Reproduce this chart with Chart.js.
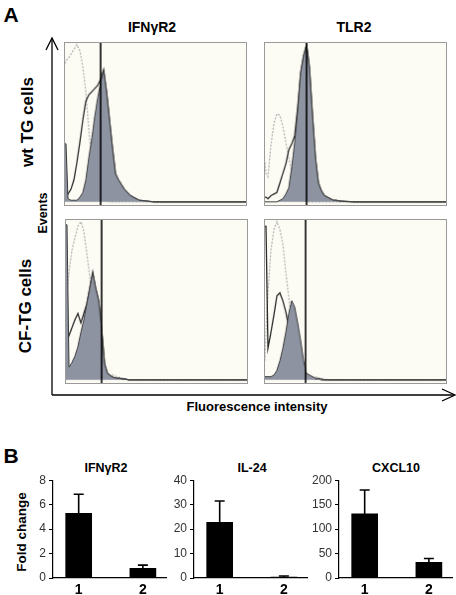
<!DOCTYPE html>
<html>
<head>
<meta charset="utf-8">
<script src="https://cdn.jsdelivr.net/npm/chart.js@4/dist/chart.umd.min.js"></script>
<style>
  body { margin: 0; background: #fff; font-family: "Liberation Sans", Arial, sans-serif; }
  #page { position: relative; width: 456px; height: 595px; overflow: hidden; }
  .txt { position: absolute; white-space: nowrap; font-weight: bold; color: #000; transform: translate(-50%, -50%); line-height: 1; }
  .rot { transform: translate(-50%, -50%) rotate(-90deg); }
  .panel { position: absolute; border: 1px solid #9a9a9a; background: #fcfbf4; }
  .bars { position: absolute; }
</style>
</head>
<body>
<div id="page">
  <svg width="456" height="595" style="position:absolute;left:0;top:0">
    <g stroke="#000" stroke-width="1.3" fill="none">
      <line x1="52" y1="39" x2="52" y2="395"/>
      <line x1="52" y1="395" x2="454" y2="395"/>
      <polyline points="46,50 52,38 58,50"/>
      <polyline points="442,389 455,395 442,401"/>
    </g>
  </svg>

  <div class="txt" style="left:11px;top:14px;font-size:21px">A</div>
  <div class="txt" style="left:152px;top:27px;font-size:14px">IFNγR2</div>
  <div class="txt" style="left:354px;top:27px;font-size:14px">TLR2</div>
  <div class="txt rot" style="left:27px;top:122px;font-size:17px">wt TG cells</div>
  <div class="txt rot" style="left:25px;top:306px;font-size:17px">CF-TG cells</div>
  <div class="txt rot" style="left:43px;top:213px;font-size:12.5px">Events</div>
  <div class="txt" style="left:257px;top:406px;font-size:13px">Fluorescence intensity</div>

  <canvas id="histTL" class="panel" width="183" height="164" style="left:64px;top:42px"></canvas>
  <canvas id="histTR" class="panel" width="183" height="164" style="left:264px;top:42px"></canvas>
  <canvas id="histBL" class="panel" width="183" height="165" style="left:65px;top:219px"></canvas>
  <canvas id="histBR" class="panel" width="183" height="165" style="left:264px;top:219px"></canvas>

  <div class="txt" style="left:11px;top:455px;font-size:21px">B</div>
  <div class="txt" style="left:106px;top:468px;font-size:12.5px">IFNγR2</div>
  <div class="txt" style="left:252px;top:468px;font-size:12.5px">IL-24</div>
  <div class="txt" style="left:396px;top:468px;font-size:12.5px">CXCL10</div>
  <div class="txt rot" style="left:22px;top:532px;font-size:13.5px">Fold change</div>

  <canvas id="barIfng" class="bars" width="156" height="125" style="left:13px;top:470px"></canvas>
  <canvas id="barIl24" class="bars" width="156" height="125" style="left:154px;top:470px"></canvas>
  <canvas id="barCxcl" class="bars" width="156" height="125" style="left:299px;top:470px"></canvas>
</div>

<script>
// fluorescence channels (panel x units) and event counts (% of panel height)
const channels = [0, 1, 3, 6, 9, 12, 15, 18, 21, 24, 27, 30, 33, 36, 39, 42, 45, 48, 51, 54, 57, 60, 63, 66, 69, 72, 75, 90, 183];

// wt TG cells, IFNgR2
const tlIso  = [88, 90, 91, 94, 97, 100, 96, 86, 70, 46, 28, 14, 6, 3, 1, 0.5, 0, 0, 0, 0, 0, 0, 0, 0, 0, 0, 0, 0, 0];
const tlOpen = [10, 8, 5, 8, 14, 25, 38, 52, 64, 68, 70, 72, 74, 78, 84, 70, 52, 34, 18, 14, 11, 8, 6, 4, 3, 2, 1, 0, 0];
const tlFill = [37, 37, 2, 1, 1, 1, 3, 6, 14, 28, 40, 54, 66, 76, 84, 70, 52, 34, 18, 14, 11, 8, 6, 4, 3, 2, 1, 0, 0];
// wt TG cells, TLR2
const trIso  = [25, 18, 16, 36, 50, 56, 55, 48, 38, 28, 20, 10, 5, 2, 1, 0, 0, 0, 0, 0, 0, 0, 0, 0, 0, 0, 0, 0, 0];
const trOpen = [3, 3, 2, 4, 5, 6, 12, 18, 24, 33, 37, 42, 60, 82, 93, 100, 85, 55, 28, 12, 7, 4, 3, 2, 1, 1, 0.5, 0, 0];
const trFill = [0, 0, 0, 0, 0, 0, 1, 2, 5, 9, 22, 38, 58, 82, 93, 100, 85, 55, 28, 12, 7, 4, 3, 2, 1, 1, 0.5, 0, 0];
// CF-TG cells, IFNgR2
const blIso  = [45, 55, 68, 82, 90, 97, 100, 94, 80, 65, 52, 36, 20, 10, 6, 4, 3, 3, 2, 1.5, 1, 0.5, 0, 0, 0, 0, 0, 0, 0];
const blOpen = [30, 30, 28, 33, 38, 42, 36, 42, 48, 58, 68, 58, 50, 32, 10, 4, 2.5, 1.5, 1, 1, 0.5, 0.5, 0, 0, 0, 0, 0, 0, 0];
const blFill = [98, 98, 8, 11, 15, 21, 30, 38, 48, 58, 68, 58, 50, 32, 10, 4, 2.5, 1.5, 1, 1, 0.5, 0.5, 0, 0, 0, 0, 0, 0, 0];
// CF-TG cells, TLR2
const brIso  = [12, 30, 55, 82, 95, 100, 95, 86, 68, 52, 38, 24, 12, 6, 4, 4, 3, 2, 2, 1, 1, 0.5, 0, 0, 0, 0, 0, 0, 0];
const brOpen = [97, 97, 20, 30, 41, 53, 55, 50, 43, 33, 22, 13, 7, 4, 2, 1, 1, 1, 0.5, 0.5, 0, 0, 0, 0, 0, 0, 0, 0, 0];
const brFill = [2, 2, 2, 2, 3, 6, 12, 20, 30, 42, 50, 46, 36, 25, 12, 4, 3, 2, 1, 1, 0.5, 0, 0, 0, 0, 0, 0, 0, 0];

// gate marker channel for each panel
const markerPos = [36, 42, 36, 41];

// panel B: quantitative PCR fold change (mean and upper SEM)
const groups = [1, 2];
const ifngMean = [5.3, 0.8];
const ifngSem  = [1.55, 0.25];
const il24Mean = [22.8, 0.4];
const il24Sem  = [8.7, 0.4];
const cxclMean = [131, 32];
const cxclSem  = [49, 8];
const ifngTicks = [0, 2, 4, 6, 8];
const il24Ticks = [0, 10, 20, 30, 40];
const cxclTicks = [0, 50, 100, 150, 200];

Chart.defaults.font.family = '"Liberation Sans", Arial, sans-serif';
Chart.defaults.animation = false;

function pts(arr) {
    return channels.map((c, i) => ({ x: c, y: arr[i] }));
}

function drawHist(id, iso, open, filled, marker) {
    new Chart(document.getElementById(id), {
        type: 'line',
        data: {
            datasets: [
                { data: [{ x: marker, y: -3 }, { x: marker, y: 103 }], borderColor: '#000', borderWidth: 1.6, pointRadius: 0, order: 0 },
                { data: pts(filled), borderColor: '#3a3a3a', borderWidth: 1, backgroundColor: '#8d93a1', fill: 'origin', pointRadius: 0, order: 1 },
                { data: pts(open), borderColor: '#2b2b2b', borderWidth: 1.3, fill: false, pointRadius: 0, order: 2 },
                { data: pts(iso), borderColor: '#b4b4b4', borderWidth: 1.3, borderDash: [2, 1.5], fill: false, pointRadius: 0, order: 3 }
            ]
        },
        options: {
            responsive: false,
            layout: { padding: 0 },
            plugins: { legend: { display: false }, tooltip: { enabled: false } },
            scales: {
                x: { type: 'linear', min: 0, max: 183, display: false },
                y: { min: -2, max: 101, display: false }
            }
        }
    });
}

drawHist('histTL', tlIso, tlOpen, tlFill, markerPos[0]);
drawHist('histTR', trIso, trOpen, trFill, markerPos[1]);
drawHist('histBL', blIso, blOpen, blFill, markerPos[2]);
drawHist('histBR', brIso, brOpen, brFill, markerPos[3]);

// upward error bars from the bar tops
const errorBars = {
    id: 'errorBars',
    afterDatasetsDraw(chart) {
        const ctx = chart.ctx;
        const ds = chart.data.datasets[0];
        const ys = chart.scales.y;
        chart.getDatasetMeta(0).data.forEach((bar, i) => {
            const top = ys.getPixelForValue(ds.data[i].y + ds.sem[i]);
            ctx.save();
            ctx.strokeStyle = '#000';
            ctx.lineWidth = 1.6;
            ctx.beginPath();
            ctx.moveTo(bar.x, bar.y);
            ctx.lineTo(bar.x, top);
            ctx.moveTo(bar.x - 5, top);
            ctx.lineTo(bar.x + 5, top);
            ctx.stroke();
            ctx.restore();
        });
    }
};

function drawBars(id, mean, sem, ticks) {
    new Chart(document.getElementById(id), {
        type: 'bar',
        data: {
            datasets: [{
                data: groups.map((g, i) => ({ x: g, y: mean[i] })),
                sem: sem,
                backgroundColor: '#000',
                barThickness: 26
            }]
        },
        options: {
            responsive: false,
            layout: { padding: { top: 9, right: 3, left: 0, bottom: 0 } },
            plugins: { legend: { display: false }, tooltip: { enabled: false } },
            scales: {
                x: {
                    type: 'linear', min: 0.6, max: 2.36, offset: false,
                    afterBuildTicks: s => { s.ticks = groups.map(v => ({ value: v })); },
                    afterFit: s => { s.height = 17; },
                    grid: { display: true, drawOnChartArea: false, drawTicks: false },
                    border: { display: true, color: '#000', width: 1.2 },
                    ticks: { padding: 4, color: '#000', font: { size: 14, weight: 'bold' } }
                },
                y: {
                    min: ticks[0], max: ticks[ticks.length - 1],
                    afterBuildTicks: s => { s.ticks = ticks.map(v => ({ value: v })); },
                    afterFit: s => { s.width = 40; },
                    grid: { display: true, drawOnChartArea: false, tickLength: 4, tickColor: '#000', color: '#000' },
                    border: { display: true, color: '#000', width: 1.2 },
                    ticks: { padding: 3, color: '#333', font: { size: 12 } }
                }
            }
        },
        plugins: [errorBars]
    });
}

drawBars('barIfng', ifngMean, ifngSem, ifngTicks);
drawBars('barIl24', il24Mean, il24Sem, il24Ticks);
drawBars('barCxcl', cxclMean, cxclSem, cxclTicks);
</script>
</body>
</html>
